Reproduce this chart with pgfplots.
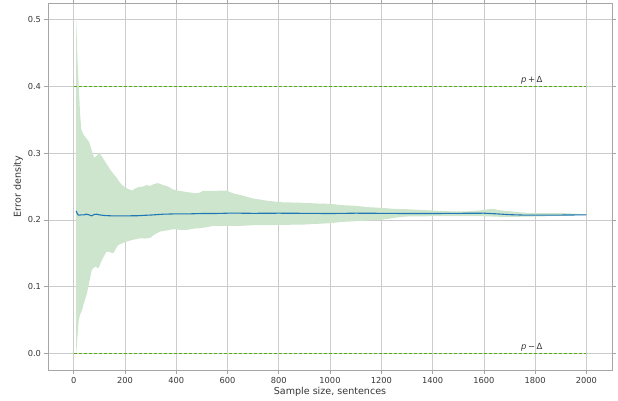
\documentclass[border=0pt]{standalone}
\usepackage{pgfplots}
\pgfplotsset{compat=1.18}
\usepackage{fontspec}
\setmainfont{DejaVu Sans}
\definecolor{bandgreen}{RGB}{204,229,204}
\definecolor{meanblue}{RGB}{31,119,180}
\definecolor{limitgreen}{RGB}{84,172,20}
\definecolor{txt}{RGB}{55,55,55}
\begin{document}
\begin{tikzpicture}
\path[use as bounding box] (0,0) rectangle (618bp,401bp);
\begin{axis}[
  at={(48bp,31bp)}, anchor=south west,
  scale only axis, width=564bp, height=367bp,
  xmin=-100, xmax=2100, ymin=-0.025, ymax=0.525,
  xtick={0,200,...,2000},
  ytick={0,0.1,0.2,0.3,0.4,0.5},
  xticklabel style={/pgf/number format/1000 sep={}},
  yticklabel style={/pgf/number format/fixed,/pgf/number format/fixed zerofill,/pgf/number format/precision=1},
  /pgf/number format/assume math mode=true,
  scaled y ticks=false,
  grid=major,
  major grid style={gray!40, line width=0.6pt},
  axis line style={gray!70, line width=0.7pt},
  tick style={gray!70, line width=0.6pt},
  tick align=outside,
  major tick length=3.5bp,
  tick label style={font=\fontsize{8.3}{10}\selectfont, text=txt},
  label style={font=\fontsize{9.6}{11}\selectfont, text=txt},
  xlabel={Sample size, sentences},
  ylabel={Error density},
  xlabel style={yshift=3bp},
  ylabel style={yshift=-2bp},
]
% confidence band: upper edge left to right, then lower edge right to left
\addplot[fill=bandgreen, draw=none, forget plot] coordinates {
(10,0.50)(15,0.44)(20,0.40)(25,0.36)(30,0.335)(40,0.327)(50,0.322)(60,0.317)(70,0.305)(80,0.293)(90,0.296)(100,0.301)(110,0.295)(120,0.289)(130,0.283)(143,0.275)(155,0.269)(169,0.2625)(180,0.256)(190,0.252)(200,0.249)(215,0.246)(227,0.244)(240,0.247)(253,0.249)(270,0.25)(285,0.252)(300,0.251)(315,0.254)(330,0.255)(350,0.252)(369,0.25)(385,0.246)(402,0.244)(420,0.243)(453,0.241)(480,0.240)(492,0.241)(505,0.2435)(550,0.2435)(596,0.244)(620,0.240)(648,0.2375)(700,0.232)(750,0.229)(803,0.2265)(850,0.226)(900,0.2255)(950,0.2245)(998,0.224)(1050,0.222)(1101,0.221)(1150,0.219)(1199,0.218)(1250,0.2165)(1296,0.216)(1350,0.215)(1399,0.214)(1450,0.213)(1529,0.2125)(1580,0.214)(1633,0.2165)(1670,0.214)(1710,0.2125)(1750,0.211)(1788,0.21)(1850,0.21)(1918,0.21)(2000,0.2085)
(2000,0.2075)(1918,0.2065)(1850,0.2055)(1788,0.205)(1720,0.2045)(1671,0.2045)(1594,0.2055)(1500,0.2055)(1399,0.2055)(1296,0.205)(1250,0.203)(1199,0.2)(1150,0.199)(1100,0.198)(1050,0.197)(998,0.195)(900,0.193)(816,0.1925)(750,0.192)(700,0.192)(650,0.191)(600,0.191)(544,0.191)(520,0.189)(492,0.1875)(470,0.187)(441,0.185)(415,0.185)(389,0.186)(360,0.184)(337,0.1825)(315,0.178)(298,0.173)(280,0.172)(259,0.1725)(230,0.17)(207,0.1675)(190,0.165)(175,0.1625)(165,0.157)(155,0.15)(145,0.151)(136,0.1525)(128,0.152)(117,0.145)(105,0.135)(97,0.1275)(84,0.13)(71,0.125)(60,0.105)(52,0.09)(40,0.075)(33,0.065)(25,0.058)(20,0.05)(15,0.025)(10,0.0)
} -- cycle;
% bounds p +/- Delta
\addplot[limitgreen, line width=1.1pt, dash pattern=on 3.5bp off 1.5bp] coordinates {(0,0.4)(2000,0.4)};
\addplot[limitgreen, line width=1.1pt, dash pattern=on 3.5bp off 1.5bp] coordinates {(0,0.0)(2000,0.0)};
% running estimate
\addplot[meanblue, line width=1.1pt] coordinates {
(10,0.2135)(15,0.2085)(20,0.207)(30,0.2075)(40,0.2075)(50,0.2085)(60,0.2075)(70,0.206)(80,0.208)(90,0.2085)(100,0.2075)(120,0.2065)(150,0.206)(200,0.206)(250,0.2062)(275,0.2068)(300,0.2072)(350,0.2085)(400,0.209)(450,0.209)(500,0.2095)(550,0.2095)(600,0.21)(650,0.21)(700,0.2098)(800,0.21)(900,0.2098)(1000,0.2095)(1100,0.21)(1200,0.2098)(1300,0.2095)(1400,0.2095)(1500,0.2098)(1600,0.21)(1650,0.209)(1700,0.2078)(1750,0.2072)(1800,0.207)(1900,0.2072)(2000,0.2075)
};
\node[font=\fontsize{8.5}{10}\selectfont, text=txt, anchor=south, inner sep=1.5bp] at (axis cs:1787,0.4) {\textit{p}\,+\,Δ};
\node[font=\fontsize{8.5}{10}\selectfont, text=txt, anchor=south, inner sep=1.5bp] at (axis cs:1787,0.0) {\textit{p}\,−\,Δ};
\end{axis}
\end{tikzpicture}
\end{document}
